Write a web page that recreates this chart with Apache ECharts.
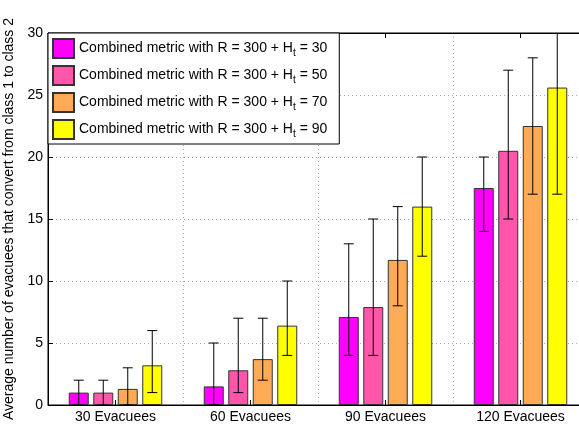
<!DOCTYPE html>
<html>
<head>
<meta charset="utf-8">
<script src="https://cdn.jsdelivr.net/npm/echarts@6/dist/echarts.min.js"></script>
<style>
  html, body { margin: 0; padding: 0; background: #fff; }
  #chart { width: 579px; height: 424px; }
</style>
</head>
<body>
<div id="chart"></div>
<script>
// data
const categories = ['30 Evacuees', '60 Evacuees', '90 Evacuees', '120 Evacuees'];
const htValues = [30, 50, 70, 90];
const means = [
  [1.0, 1.5, 7.1, 17.5],
  [1.0, 2.8, 7.9, 20.5],
  [1.3, 3.7, 11.7, 22.5],
  [3.2, 6.4, 16.0, 25.6]
];
const lows = [
  [0, 0, 4, 14],
  [0, 1, 4, 15],
  [0, 2, 8, 17],
  [1, 4, 12, 17]
];
const highs = [
  [2, 5, 13, 20],
  [2, 7, 15, 27],
  [3, 7, 16, 28],
  [6, 10, 20, 30]
];
const yTicks = [0, 5, 10, 15, 20, 25, 30];

// spring colormap, 4 levels
const COLORS = ['#ff00ff', '#ff55aa', '#ffaa55', '#ffff00'];

const BAR_W = 20;
const BAR_GAP = 4.5;
const FONT = 'Liberation Sans, Arial, sans-serif';

const chart = echarts.init(document.getElementById('chart'));

const barSeries = htValues.map((ht, i) => ({
  name: 'Combined metric with R = 300 + H{sub|t} = ' + ht,
  type: 'bar',
  barWidth: BAR_W,
  barGap: (BAR_GAP / BAR_W * 100) + '%',
  data: means[i],
  itemStyle: { color: COLORS[i], borderColor: '#333', borderWidth: 1 },
  z: 2
}));

// error bars drawn as custom series on top of each bar
const errSeries = htValues.map((ht, i) => ({
  type: 'custom',
  name: 'err' + i,
  z: 3,
  clip: true,
  data: categories.map((c, k) => [k, lows[i][k], highs[i][k]]),
  renderItem: function (params, api) {
    const k = api.value(0);
    const lo = api.coord([k, api.value(1)]);
    const hi = api.coord([k, api.value(2)]);
    const x = lo[0] + (i - 1.5) * (BAR_W + BAR_GAP);
    const cap = 5;
    const style = { stroke: '#000', lineWidth: 1 };
    return {
      type: 'group',
      children: [
        { type: 'line', shape: { x1: x, y1: lo[1], x2: x, y2: hi[1] }, style: style },
        { type: 'line', shape: { x1: x - cap, y1: lo[1], x2: x + cap, y2: lo[1] }, style: style },
        { type: 'line', shape: { x1: x - cap, y1: hi[1], x2: x + cap, y2: hi[1] }, style: style }
      ]
    };
  }
}));

const option = {
  animation: false,
  textStyle: { fontFamily: FONT },
  grid: {
    left: 48, top: 33, width: 540, height: 372,
    outerBoundsMode: 'none',
    show: true, borderColor: '#000', borderWidth: 1, backgroundColor: '#fff'
  },
  legend: {
    left: 48, top: 33,
    orient: 'vertical',
    icon: 'rect',
    itemWidth: 21, itemHeight: 19, itemGap: 6,
    padding: [5, 12, 4, 4],
    backgroundColor: '#fff',
    borderColor: '#000', borderWidth: 1,
    data: barSeries.map(s => s.name),
    textStyle: {
      fontSize: 14, color: '#000', fontFamily: FONT,
      rich: { sub: { fontSize: 10, verticalAlign: 'bottom', padding: [10, 0, 0, 0], color: '#000' } }
    }
  },
  xAxis: [{
    type: 'category',
    data: categories,
    axisLine: { lineStyle: { color: '#000' } },
    axisTick: { show: true, inside: true, alignWithLabel: true, length: 5, lineStyle: { color: '#000' } },
    axisLabel: { fontSize: 14, color: '#000', margin: 5 },
    splitLine: { show: true, interval: 0, lineStyle: { color: '#aaa', type: [1, 3] } }
  }, {
    type: 'category',
    position: 'top',
    data: categories,
    axisLine: { lineStyle: { color: '#000' } },
    axisTick: { show: true, inside: true, alignWithLabel: true, length: 5, lineStyle: { color: '#000' } },
    axisLabel: { show: false }
  }],
  yAxis: {
    type: 'value',
    min: yTicks[0], max: yTicks[yTicks.length - 1], interval: 5,
    name: 'Average number of evacuees that convert from class 1 to class 2',
    nameLocation: 'middle',
    nameGap: 27,
    nameTextStyle: { fontSize: 14, color: '#000' },
    axisLine: { show: true, lineStyle: { color: '#000' } },
    axisTick: { show: true, inside: true, length: 5, lineStyle: { color: '#000' } },
    axisLabel: { fontSize: 14, color: '#000', margin: 5 },
    splitLine: { show: true, lineStyle: { color: '#aaa', type: [1, 3] } }
  },
  series: barSeries.concat(errSeries)
};

chart.setOption(option);
</script>
</body>
</html>
